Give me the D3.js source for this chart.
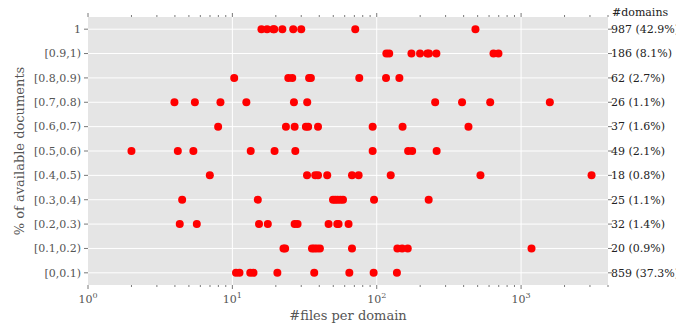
<!DOCTYPE html>
<html>
<head>
<meta charset="utf-8">
<script src="https://cdn.jsdelivr.net/npm/d3@7"></script>
<style>
  body { margin: 0; background: #fff; }
  svg text { font-family: "DejaVu Serif", "Liberation Serif", serif; }
</style>
</head>
<body>
<div id="chart"></div>
<script>
// rows from top to bottom
const categories = ['1', '[0.9,1)', '[0.8,0.9)', '[0.7,0.8)', '[0.6,0.7)', '[0.5,0.6)',
  '[0.4,0.5)', '[0.3,0.4)', '[0.2,0.3)', '[0.1,0.2)', '[0,0.1)'];
const domainLabels = ['987 (42.9%)', '186 (8.1%)', '62 (2.7%)', '26 (1.1%)', '37 (1.6%)', '49 (2.1%)',
  '18 (0.8%)', '25 (1.1%)', '32 (1.4%)', '20 (0.9%)', '859 (37.3%)'];

// #files per domain, one array per row
const filesAll = [15.9, 17.4, 19.2, 19.5, 22.2, 26.4, 30.0, 71, 483];
const files09 = [116.6, 122, 174, 199.5, 224, 230, 259, 644, 697];
const files08 = [10.3, 24.4, 26, 34, 35, 75.7, 116, 143.5];
const files07 = [3.97, 5.5, 8.27, 12.5, 26.7, 33.0, 254, 390, 611, 1582];
const files06 = [7.97, 23.5, 27, 32.3, 33.5, 39.2, 93.7, 151, 432];
const files05 = [2.0, 4.19, 5.37, 13.4, 19.6, 27.3, 93.7, 165, 176, 260];
const files04 = [6.98, 32.9, 37.5, 39.2, 45.4, 67.4, 74.9, 125, 523, 3077];
const files03 = [4.49, 15.0, 49.8, 51.6, 53.6, 56, 58.4, 95.8, 229];
const files02 = [4.32, 5.67, 15.3, 17.6, 27, 28.3, 46.4, 53.3, 54.4, 63.8];
const files01 = [22.6, 23.2, 35.6, 36.9, 38.5, 40.4, 67.4, 139, 150, 164, 1181];
const files00 = [10.6, 11.2, 13.3, 14.0, 20.5, 36.9, 64.6, 95.2, 138];

const rows = [filesAll, files09, files08, files07, files06, files05, files04, files03, files02, files01, files00];

const xTicks = [1, 10, 100, 1000];

const W = 690, H = 323;
const margin = { top: 17, right: 82, bottom: 38, left: 88 };
const width = W - margin.left - margin.right;
const height = H - margin.top - margin.bottom;
const font = '"DejaVu Serif", "Liberation Serif", serif';

const svg = d3.select('#chart').append('svg')
  .attr('width', W)
  .attr('height', H)
  .attr('font-family', font);

// the count labels get cut off at the right, like the original figure
svg.append('defs').append('clipPath').attr('id', 'figclip')
  .append('rect').attr('x', 0).attr('y', 0).attr('width', 676).attr('height', H);

const g = svg.append('g')
  .attr('transform', `translate(${margin.left},${margin.top})`);

const x = d3.scaleLog().domain([1, 4000]).range([0, width]);
const y = d3.scalePoint().domain(categories).range([0, height]).padding(0.5);

g.append('rect')
  .attr('width', width)
  .attr('height', height)
  .attr('fill', '#e5e5e5');

// grid
g.selectAll('.gx').data(xTicks.slice(1)).enter().append('line')
  .attr('x1', d => x(d)).attr('x2', d => x(d))
  .attr('y1', 0).attr('y2', height)
  .attr('stroke', '#fff').attr('stroke-width', 1);
g.selectAll('.gy').data(categories).enter().append('line')
  .attr('x1', 0).attr('x2', width)
  .attr('y1', d => y(d)).attr('y2', d => y(d))
  .attr('stroke', '#fff').attr('stroke-width', 1);

// minor + major ticks on log x axis (top and bottom)
const minor = [];
for (let e = 0; e < 4; e++) {
  for (let m = 2; m < 10; m++) {
    const v = m * Math.pow(10, e);
    if (v <= 4000) minor.push(v);
  }
}
const tickCol = '#555';
[0, height].forEach((yy, i) => {
  const dir = i === 0 ? -1 : 1;
  g.selectAll(null).data(minor).enter().append('line')
    .attr('x1', d => x(d)).attr('x2', d => x(d))
    .attr('y1', yy).attr('y2', yy + dir * 2)
    .attr('stroke', tickCol).attr('stroke-width', 0.8);
  g.selectAll(null).data(xTicks).enter().append('line')
    .attr('x1', d => x(d)).attr('x2', d => x(d))
    .attr('y1', yy).attr('y2', yy + dir * 4)
    .attr('stroke', tickCol).attr('stroke-width', 0.8);
});

// x tick labels as 10^n
const xl = g.selectAll('.xl').data(xTicks).enter().append('text')
  .attr('x', d => x(d))
  .attr('y', height + 18)
  .attr('text-anchor', 'middle')
  .attr('fill', tickCol)
  .style('font-size', '11px');
xl.append('tspan').text('10');
xl.append('tspan')
  .attr('dy', -5)
  .style('font-size', '8px')
  .text(d => Math.round(Math.log10(d)));

// y ticks left
g.selectAll('.ytl').data(categories).enter().append('line')
  .attr('x1', -4).attr('x2', 0)
  .attr('y1', d => y(d)).attr('y2', d => y(d))
  .attr('stroke', tickCol).attr('stroke-width', 0.8);
g.selectAll('.yl').data(categories).enter().append('text')
  .attr('x', -7)
  .attr('y', d => y(d))
  .attr('dy', '0.35em')
  .attr('text-anchor', 'end')
  .attr('fill', tickCol)
  .style('font-size', '11px')
  .text(d => d);

// right side: domain counts
g.selectAll('.ytr').data(categories).enter().append('line')
  .attr('x1', width).attr('x2', width + 4)
  .attr('y1', d => y(d)).attr('y2', d => y(d))
  .attr('stroke', tickCol).attr('stroke-width', 0.8);
const right = svg.append('g').attr('clip-path', 'url(#figclip)');
right.selectAll('text').data(categories).enter().append('text')
  .attr('x', margin.left + width + 3)
  .attr('y', d => margin.top + y(d))
  .attr('dy', '0.35em')
  .attr('fill', '#222')
  .style('font-size', '11px')
  .text((d, i) => domainLabels[i]);
svg.append('text')
  .attr('x', margin.left + width + 4)
  .attr('y', 16)
  .attr('fill', '#222')
  .style('font-size', '11px')
  .text('#domains');

// points
rows.forEach((vals, i) => {
  g.selectAll(null).data(vals).enter().append('circle')
    .attr('cx', d => x(d))
    .attr('cy', y(categories[i]))
    .attr('r', 4)
    .attr('fill', '#ff0000');
});

// axis labels
svg.append('text')
  .attr('x', margin.left + width / 2)
  .attr('y', 320)
  .attr('text-anchor', 'middle')
  .attr('fill', tickCol)
  .style('font-size', '13px')
  .text('#files per domain');
svg.append('text')
  .attr('transform', `translate(24,${margin.top + height / 2}) rotate(-90)`)
  .attr('text-anchor', 'middle')
  .attr('fill', tickCol)
  .style('font-size', '13px')
  .text('% of available documents');
</script>
</body>
</html>
